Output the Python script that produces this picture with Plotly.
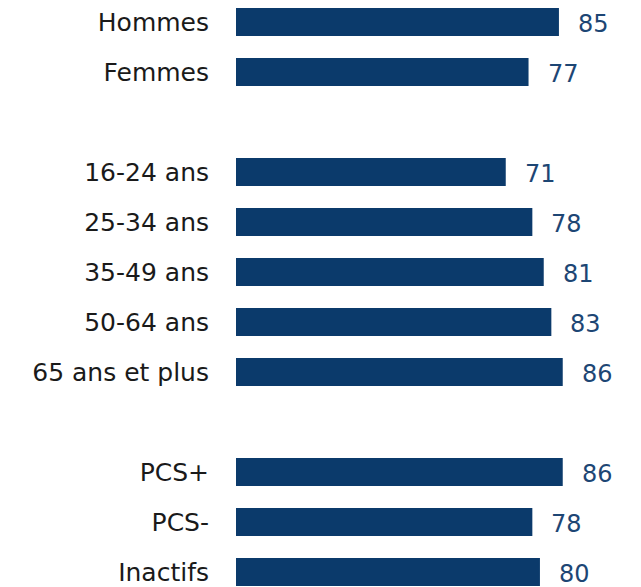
import plotly.graph_objects as go

categories = ["Hommes", "Femmes", " ", "16-24 ans", "25-34 ans", "35-49 ans",
              "50-64 ans", "65 ans et plus", "  ", "PCS+", "PCS-", "Inactifs"]
values = [85, 77, None, 71, 78, 81, 83, 86, None, 86, 78, 80]

bar_color = "#0b3a6b"
value_color = "#1d4674"

fig = go.Figure()
fig.add_trace(go.Bar(
    x=values, y=categories, orientation="h",
    marker=dict(color=bar_color, line=dict(width=0)),
    width=0.56, hoverinfo="skip",
))

for c, v in zip(categories, values):
    if v is None:
        continue
    fig.add_annotation(x=v, y=c, text=str(v), showarrow=False,
                       xanchor="left", yanchor="middle", xshift=17, yshift=-2,
                       font=dict(family="DejaVu Sans", size=24, color=value_color))

fig.update_layout(
    width=633, height=579,
    margin=dict(l=228, r=0, t=0, b=0),
    paper_bgcolor="white", plot_bgcolor="white",
    showlegend=False,
    xaxis=dict(range=[0, 106.6], visible=False, fixedrange=True),
    yaxis=dict(type="category", categoryorder="array", categoryarray=categories,
               range=[11.3, -0.28], showgrid=False, zeroline=False, showline=False,
               ticks="", ticklabelstandoff=26,
               tickfont=dict(family="DejaVu Sans", size=25, color="#1a1a1a")),
)

fig.write_html("out.html")
